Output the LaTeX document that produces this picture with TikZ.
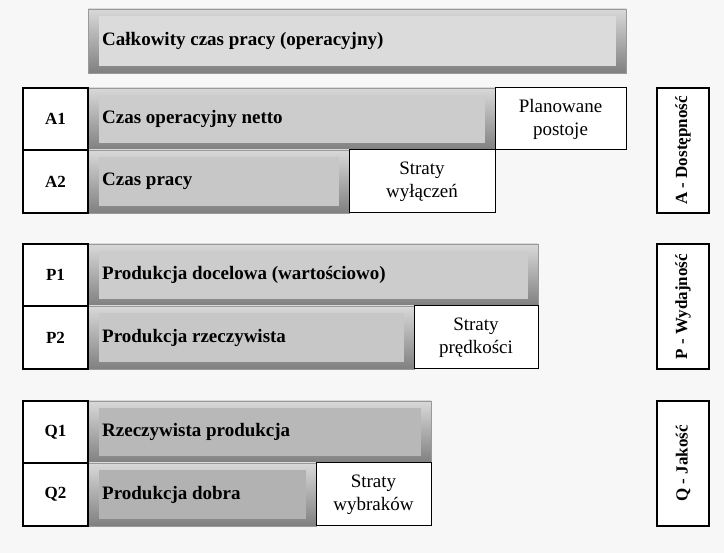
\documentclass[tikz,border=0pt]{standalone}
\usepackage{fontspec}
\setmainfont{Liberation Serif}
\begin{document}
\begin{tikzpicture}[x=1pt,y=-1pt,
  outer/.style={top color=black!15,bottom color=black!50,draw=black!40,line width=0.8pt},
  inner/.style={draw=none,text=black,font=\bfseries\fontsize{19}{22}\selectfont,anchor=west,inner sep=0pt},
  lab/.style={draw=black,line width=2pt,fill=white,font=\bfseries\fontsize{17}{20}\selectfont},
  loss/.style={draw=black,line width=1pt,fill=white,align=center,font=\fontsize{19}{23}\selectfont},
  side/.style={draw=black,line width=2pt,fill=white}]
\fill[black!3] (0,0) rectangle (724,553);
\useasboundingbox (0,0) rectangle (724,553);
\newcommand{\mybar}[6]{%
  \fill[outer] (88,#3) rectangle (#2,#4);
  \fill[#5] (99,#3+7) rectangle (#2-10,#4-7);
  \node[inner] (#1) at (102,{(#3+#4)/2}) {#6};}
\mybar{T}{626}{9}{73}{black!14}{Całkowity czas pracy (operacyjny)}
\mybar{A1b}{495}{88}{150}{black!20}{Czas operacyjny netto}
\mybar{A2b}{349}{150}{213}{black!22}{Czas pracy}
\mybar{P1b}{538}{244}{306}{black!20}{Produkcja docelowa (wartościowo)}
\mybar{P2b}{414}{306}{369}{black!22}{Produkcja rzeczywista}
\mybar{Q1b}{431}{401}{463}{black!28}{Rzeczywista produkcja}
\mybar{Q2b}{316}{463}{526}{black!30}{Produkcja dobra}
\node[lab,minimum width=65pt,minimum height=62pt] (A1) at (55.5,119) {A1};
\node[lab,minimum width=65pt,minimum height=63pt] (A2) at (55.5,181.5) {A2};
\node[lab,minimum width=65pt,minimum height=62pt] (P1) at (55.5,275) {P1};
\node[lab,minimum width=65pt,minimum height=63pt] (P2) at (55.5,337.5) {P2};
\node[lab,minimum width=65pt,minimum height=62pt] (Q1) at (55.5,432) {Q1};
\node[lab,minimum width=65pt,minimum height=63pt] (Q2) at (55.5,494.5) {Q2};
\node[loss,minimum width=131pt,minimum height=62pt] (L1) at (560.5,119) {Planowane\\postoje};
\node[loss,minimum width=146pt,minimum height=63pt] (L2) at (422,181.5) {Straty\\wyłączeń};
\node[loss,minimum width=124pt,minimum height=63pt] (L3) at (476,337.5) {Straty\\prędkości};
\node[loss,minimum width=115pt,minimum height=63pt] (L4) at (373.5,494.5) {Straty\\wybraków};
\node[side,minimum width=52pt,minimum height=125pt] (SA) at (683,150.5) {};
\node[rotate=90,font=\bfseries\fontsize{17}{20}\selectfont] at (SA) {A - Dostępność};
\node[side,minimum width=52pt,minimum height=125pt] (SP) at (683,306.5) {};
\node[rotate=90,font=\bfseries\fontsize{17}{20}\selectfont] at (SP) {P - Wydajność};
\node[side,minimum width=52pt,minimum height=125pt] (SQ) at (683,463.5) {};
\node[rotate=90,font=\bfseries\fontsize{17}{20}\selectfont] at (SQ) {Q - Jakość};
\end{tikzpicture}
\end{document}
